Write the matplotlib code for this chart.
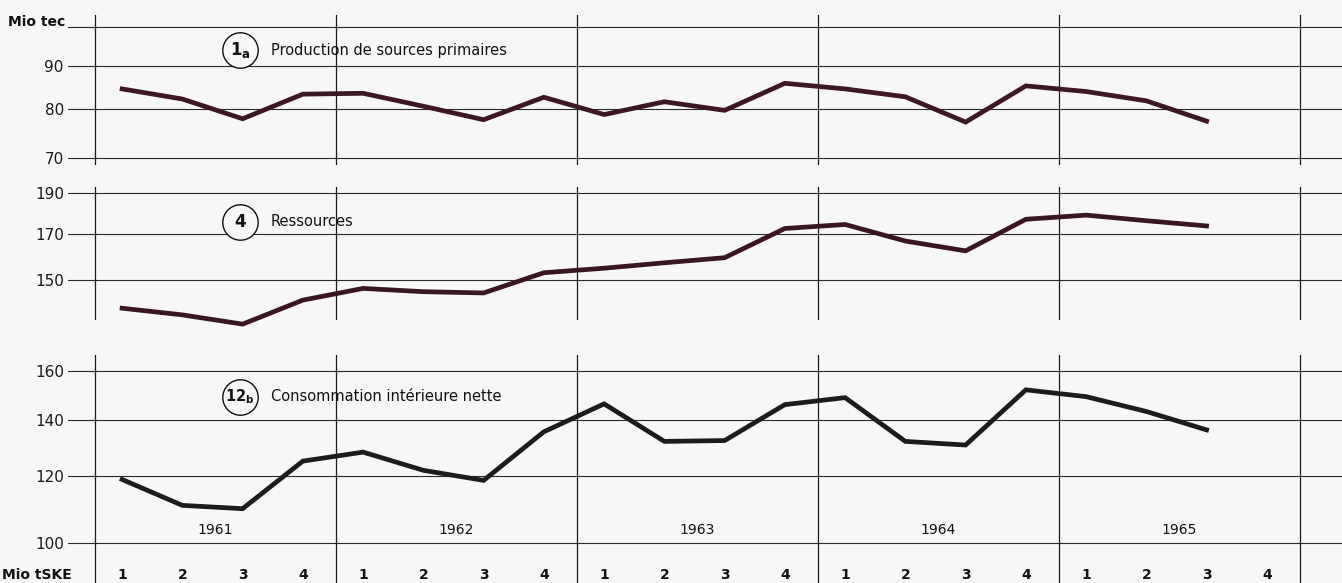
import numpy as np
import matplotlib
matplotlib.use('Agg')
import matplotlib.pyplot as plt

# quarterly data 1961 Q1 .. 1965 Q3 (semi-log chart)
years = ['1961', '1962', '1963', '1964', '1965']
quarters = ['1', '2', '3', '4']

production = [84.5, 82.2, 77.9, 83.3, 83.5, 80.6, 77.7, 82.6,
              78.8, 81.6, 79.7, 85.8, 84.5, 82.7, 77.2, 85.2,
              83.9, 81.8, 77.4]
ressources = [138.9, 136.4, 133.0, 142.0, 146.6, 145.3, 144.8, 153.0,
              154.9, 157.2, 159.4, 172.6, 174.5, 166.8, 162.4, 177.0,
              179.0, 176.3, 173.8]
consommation = [118.9, 110.8, 109.8, 125.0, 128.1, 121.9, 118.6, 135.4,
                146.1, 131.9, 132.2, 145.8, 148.6, 131.9, 130.6, 151.8,
                149.0, 143.1, 136.1]

W, H = 1342, 583
K = 845.0        # pixels per decade
X0 = 95.0        # pixel of start 1961
DX = 60.25       # pixels per quarter
LEFT = 68.0
BG = '#f7f7f7'

fig = plt.figure(figsize=(W / 100, H / 100), dpi=100)
fig.patch.set_facecolor(BG)

xq = np.arange(len(years) * 4) + 0.45


def px2val(ref_val, ref_px, y):
    return ref_val * 10 ** ((ref_px - y) / K)


def px2x(x):
    return (x - X0) / DX


def panel(top_px, bot_px, ref_val, ref_px, hlines, ticks, values, color):
    ax = fig.add_axes([LEFT / W, 1 - bot_px / H, (W - LEFT) / W, (bot_px - top_px) / H])
    ax.set_yscale('log')
    ax.set_ylim(px2val(ref_val, ref_px, bot_px), px2val(ref_val, ref_px, top_px))
    ax.set_xlim(px2x(LEFT), px2x(W))
    ax.patch.set_visible(False)
    for s in ax.spines.values():
        s.set_visible(False)
    ax.set_xticks([])
    ax.yaxis.set_minor_locator(matplotlib.ticker.NullLocator())
    ax.set_yticks(ticks, [str(t) for t in ticks])
    ax.tick_params(axis='y', length=0, pad=3, labelsize=11, labelcolor='#1a1a1a')
    for h in hlines:
        ax.axhline(h, color='#2a2a2a', lw=0.8, zorder=1)
    for b in range(0, 21, 4):
        ax.axvline(b, color='#1a1a1a', lw=0.9, zorder=1)
    ax.plot(xq[:len(values)], values, color=color, lw=3.4,
            solid_joinstyle='miter', clip_on=False, zorder=3)
    return ax


def title(ax, ref_val, ref_px, y_px, num, sub, text):
    yv = px2val(ref_val, ref_px, y_px)
    ax.plot([px2x(240)], [yv], marker='o', ms=25.5, mfc=BG, mec='#111', mew=1.0,
            zorder=5, clip_on=False)
    label = num if not sub else r'$\mathbf{' + num + r'}_{\mathbf{' + sub + r'}}$'
    fs = 12 if len(num) == 1 else 10.5
    ax.text(px2x(240), yv, label, ha='center', va='center', fontsize=fs,
            fontweight='bold', color='#111', zorder=6)
    ax.text(px2x(271), yv, text, ha='left', va='center', fontsize=10.5,
            color='#111', zorder=5)


ax1 = panel(15, 165, 70, 158, [70, 80, 90, 100], [70, 80, 90], production, '#3d1722')
title(ax1, 70, 158, 50, '1', 'a', 'Production de sources primaires')

ax2 = panel(187, 320, 150, 280, [150, 170, 190], [150, 170, 190], ressources, '#3a1720')
title(ax2, 150, 280, 222, '4', '', 'Ressources')

ax3 = panel(355, 583, 100, 543, [100, 120, 140, 160], [100, 120, 140, 160], consommation, '#1c1c1c')
title(ax3, 100, 543, 397, '12', 'b', 'Consommation intérieure nette')

# year labels and quarter labels
for i, yr in enumerate(years):
    ax3.text(4 * i + 2, px2val(100, 543, 530), yr, ha='center', va='center',
             fontsize=10, color='#111')
for i, x in enumerate(xq):
    ax3.text(x, px2val(100, 543, 575), quarters[i % 4], ha='center', va='center',
             fontsize=10, fontweight='bold', color='#111')

fig.text(8 / W, 1 - 22 / H, 'Mio tec', ha='left', va='center', fontsize=10,
         fontweight='bold', color='#111')
fig.text(2 / W, 1 - 575 / H, 'Mio tSKE', ha='left', va='center', fontsize=10,
         fontweight='bold', color='#111')

fig.savefig('out.png', dpi=100, facecolor=fig.get_facecolor())
